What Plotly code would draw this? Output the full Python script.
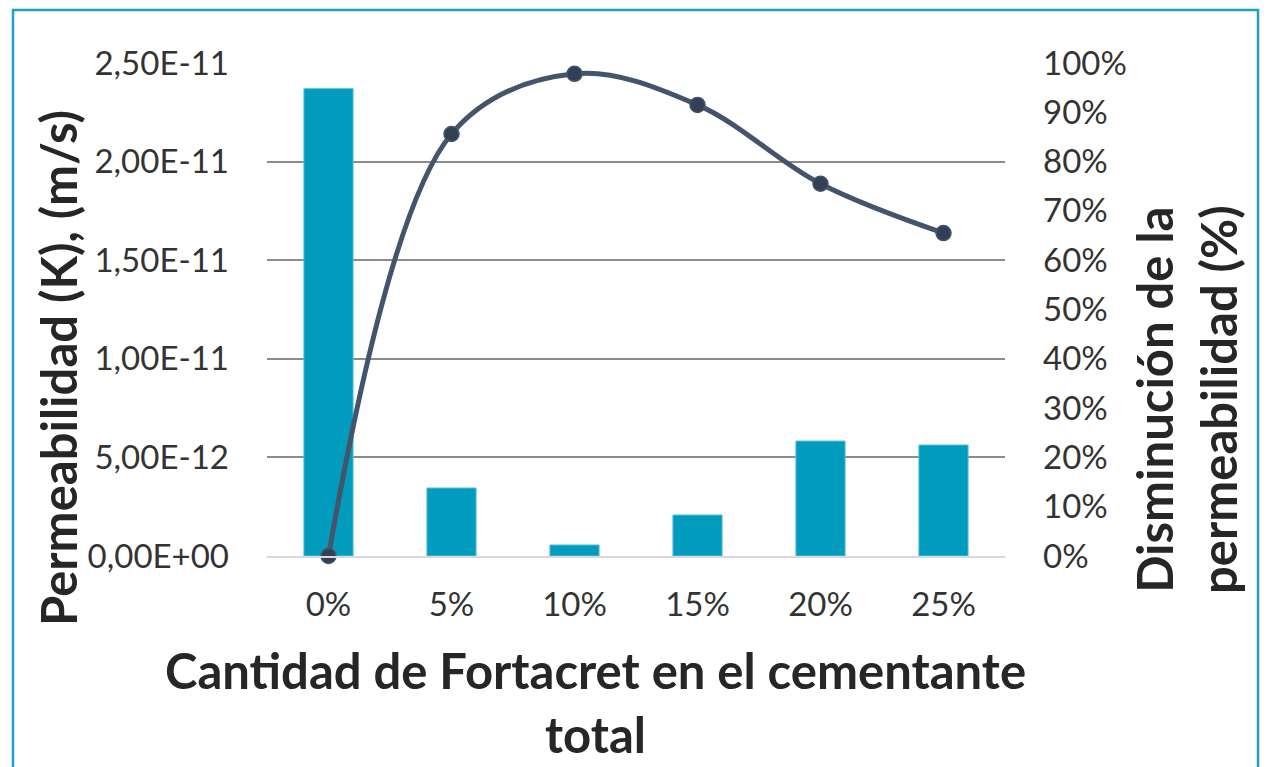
import plotly.graph_objects as go

# ====================================== Chart data ================================================ #

### Categories and series
fortacret = ['0%', '5%', '10%', '15%', '20%', '25%']
permeabilidad = [2.37e-11, 3.45e-12, 5.6e-13, 2.08e-12, 5.83e-12, 5.63e-12]
disminucion = [0.0, 0.856, 0.978, 0.915, 0.755, 0.655]

### Left axis tick labels
k_ticks = [0, 5e-12, 1e-11, 1.5e-11, 2e-11, 2.5e-11]
k_labels = ['0,00E+00', '5,00E-12', '1,00E-11', '1,50E-11', '2,00E-11', '2,50E-11']

# ====================================== Layout helpers ============================================ #

# the page puts an 8px body margin round the figure, so the figure is shrunk by that much
OFF = 8
W, H = 1268 - OFF, 767 - OFF
ML, MR, MT, MB = 267 - OFF, 263, 63 - OFF, 211
PW, PH = W - ML - MR, H - MT - MB


def px(x):
    # page pixel x -> paper x
    return (x - OFF - ML) / PW


def py(y):
    # page pixel y (from top) -> paper y
    return (H - MB - (y - OFF)) / PH


TEAL = '#1BA3C6'
BAR = '#009BBD'
LINE = '#44546A'
TXT = '#262626'
TITLE_FONT = dict(family='Lato, sans-serif', size=49, color=TXT, weight='bold')

# ====================================== Figure ==================================================== #

fig = go.Figure(data=[

    go.Bar(name='Permeabilidad', x=fortacret, y=permeabilidad, yaxis='y',
           marker={'color': BAR, 'line': {'color': '#5CC3DC', 'width': 1}}),

    go.Scatter(name='Disminución', x=fortacret, y=disminucion, yaxis='y2',
               mode='lines+markers', line={'color': LINE, 'width': 5, 'shape': 'spline', 'smoothing': 1},
               marker={'color': '#323F54', 'size': 15, 'line': {'color': LINE, 'width': 1.5}},
               cliponaxis=False)
])

fig.update_layout(width=W, height=H, margin=dict(l=ML, r=MR, t=MT, b=MB),
                  paper_bgcolor='white', plot_bgcolor='white', showlegend=False, bargap=0.6,
                  font=dict(family='Lato, sans-serif', size=33, color='#333333'))

fig.update_xaxes(type='category', showgrid=False, showline=True, linecolor='#D9D9D9', linewidth=2,
                 ticks='', ticklabelstandoff=18)

fig.update_yaxes(range=[0, 2.5e-11], tickvals=k_ticks, ticktext=k_labels, showgrid=True,
                 gridcolor='#8C8C8C', gridwidth=1.5, zeroline=False, ticks='', ticklabelstandoff=37)

fig.update_layout(yaxis2=dict(overlaying='y', side='right', range=[0, 1], dtick=0.1, tickformat='.0%',
                              showgrid=False, zeroline=False, showline=False, ticks='',
                              ticklabelstandoff=37))

# -- Axis titles -- #
fig.add_annotation(text='Permeabilidad (K), (m/s)', xref='paper', yref='paper', x=px(58), y=py(368),
                   textangle=-90, showarrow=False, font=TITLE_FONT, xanchor='center', yanchor='middle')
fig.add_annotation(text='Cantidad de Fortacret en el cementante<br>total', xref='paper', yref='paper',
                   x=px(595), y=py(702), showarrow=False, font=TITLE_FONT, xanchor='center',
                   yanchor='middle')
fig.add_annotation(text='Disminución de la<br>permeabilidad (%)', xref='paper', yref='paper',
                   x=px(1186), y=py(400), textangle=-90, showarrow=False, font=TITLE_FONT,
                   xanchor='center', yanchor='middle')

# -- Frame and decoration -- #
fig.add_shape(type='rect', xref='paper', yref='paper', x0=px(13), x1=px(1258), y0=py(790), y1=py(10),
              line={'color': TEAL, 'width': 2.5}, layer='below')
fig.add_shape(type='circle', xref='paper', yref='paper', x0=px(1261), x1=px(1861), y0=py(575), y1=py(-25),
              fillcolor=TEAL, line={'width': 0}, layer='below')

fig.write_html('out.html')
